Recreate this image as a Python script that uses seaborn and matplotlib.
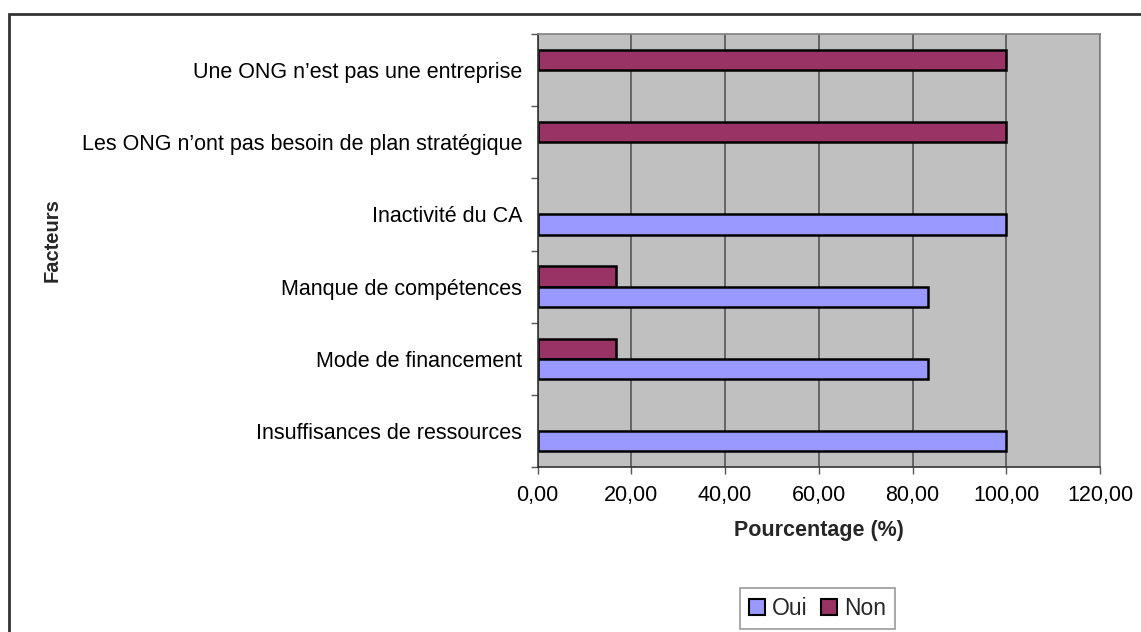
import pandas as pd
import matplotlib.pyplot as plt
import seaborn as sns
from matplotlib.patches import Rectangle, Patch
from matplotlib.ticker import FuncFormatter, FixedLocator

# categories, top to bottom as drawn
facteurs = [
    "Une ONG n\u2019est pas une entreprise",
    "Les ONG n\u2019ont pas besoin de plan stratégique",
    "Inactivité du CA",
    "Manque de compétences",
    "Mode de financement",
    "Insuffisances de ressources",
]
oui = [0.0, 0.0, 100.0, 83.33, 83.33, 100.0]
non = [100.0, 100.0, 0.0, 16.67, 16.67, 0.0]
x_ticks = [0, 20, 40, 60, 80, 100, 120]

df = pd.DataFrame({
    "Facteur": facteurs * 2,
    "Réponse": ["Oui"] * len(facteurs) + ["Non"] * len(facteurs),
    "Pourcentage": oui + non,
})

sns.set_style("white")
plt.rcParams["font.family"] = ["Liberation Sans", "DejaVu Sans"]

colors = {"Oui": "#9999FF", "Non": "#993366"}

fig = plt.figure(figsize=(11.41, 6.32), dpi=100)
ax = fig.add_axes([537.5 / 1141, 1 - 467 / 632, (1100 - 537.5) / 1141, (467 - 34) / 632])

sns.barplot(data=df, y="Facteur", x="Pourcentage", hue="Réponse",
            order=facteurs, hue_order=["Non", "Oui"], palette=colors, saturation=1,
            orient="h", width=0.56, edgecolor="black", linewidth=1.8,
            ax=ax, legend=False)

# zero-length bars show up as a black stroke, hide them
for p in ax.patches:
    if p.get_width() == 0:
        p.set_visible(False)

ax.set_facecolor("#C0C0C0")
ax.set_xlim(0, 120)
ax.set_ylim(len(facteurs) - 0.5, -0.5)
ax.xaxis.set_major_locator(FixedLocator(x_ticks))
ax.xaxis.set_major_formatter(FuncFormatter(lambda v, p: f"{v:.2f}".replace(".", ",")))
ax.grid(axis="x", color="#555555", linewidth=1.2)
ax.set_axisbelow(True)

fs = 15.5
ax.yaxis.set_minor_locator(FixedLocator([i - 0.5 for i in range(len(facteurs) + 1)]))
ax.tick_params(axis="y", which="major", length=0, pad=11, labelsize=fs, colors="black")
ax.tick_params(axis="y", which="minor", length=5, width=1, color="#555555", left=True)
ax.tick_params(axis="x", length=5, width=1, color="#555555", bottom=True, pad=8,
               labelsize=fs, labelcolor="black")

for side in ["top", "right"]:
    ax.spines[side].set_color("#808080")
    ax.spines[side].set_linewidth(1.2)
for side in ["left", "bottom"]:
    ax.spines[side].set_color("#333333")
    ax.spines[side].set_linewidth(1.2)

ax.set_ylabel("")
ax.set_xlabel("Pourcentage (%)", fontsize=fs, fontweight="bold", labelpad=10)
fig.text(52 / 1141, 1 - 240 / 632, "Facteurs", rotation=90, ha="center", va="center",
         fontsize=14.5, fontweight="bold")

handles = [Patch(facecolor=colors["Oui"], edgecolor="black", linewidth=1.5, label="Oui"),
           Patch(facecolor=colors["Non"], edgecolor="black", linewidth=1.5, label="Non")]
leg = fig.legend(handles=handles, loc="upper center", bbox_to_anchor=(817.5 / 1141, 1 - 588 / 632),
                 ncol=2, frameon=True, fancybox=False, fontsize=16.5, handlelength=0.7,
                 handleheight=0.7, handletextpad=0.3, columnspacing=0.6, borderpad=0.4,
                 borderaxespad=0)
leg.get_frame().set_edgecolor("#808080")
leg.get_frame().set_linewidth(1.2)

fig.patches.append(Rectangle((9 / 1141, -0.1), 1.2, 1 - 14 / 632 + 0.1, transform=fig.transFigure,
                             fill=False, edgecolor="#333333", linewidth=2, zorder=0))

fig.savefig("out.png", dpi=100)
